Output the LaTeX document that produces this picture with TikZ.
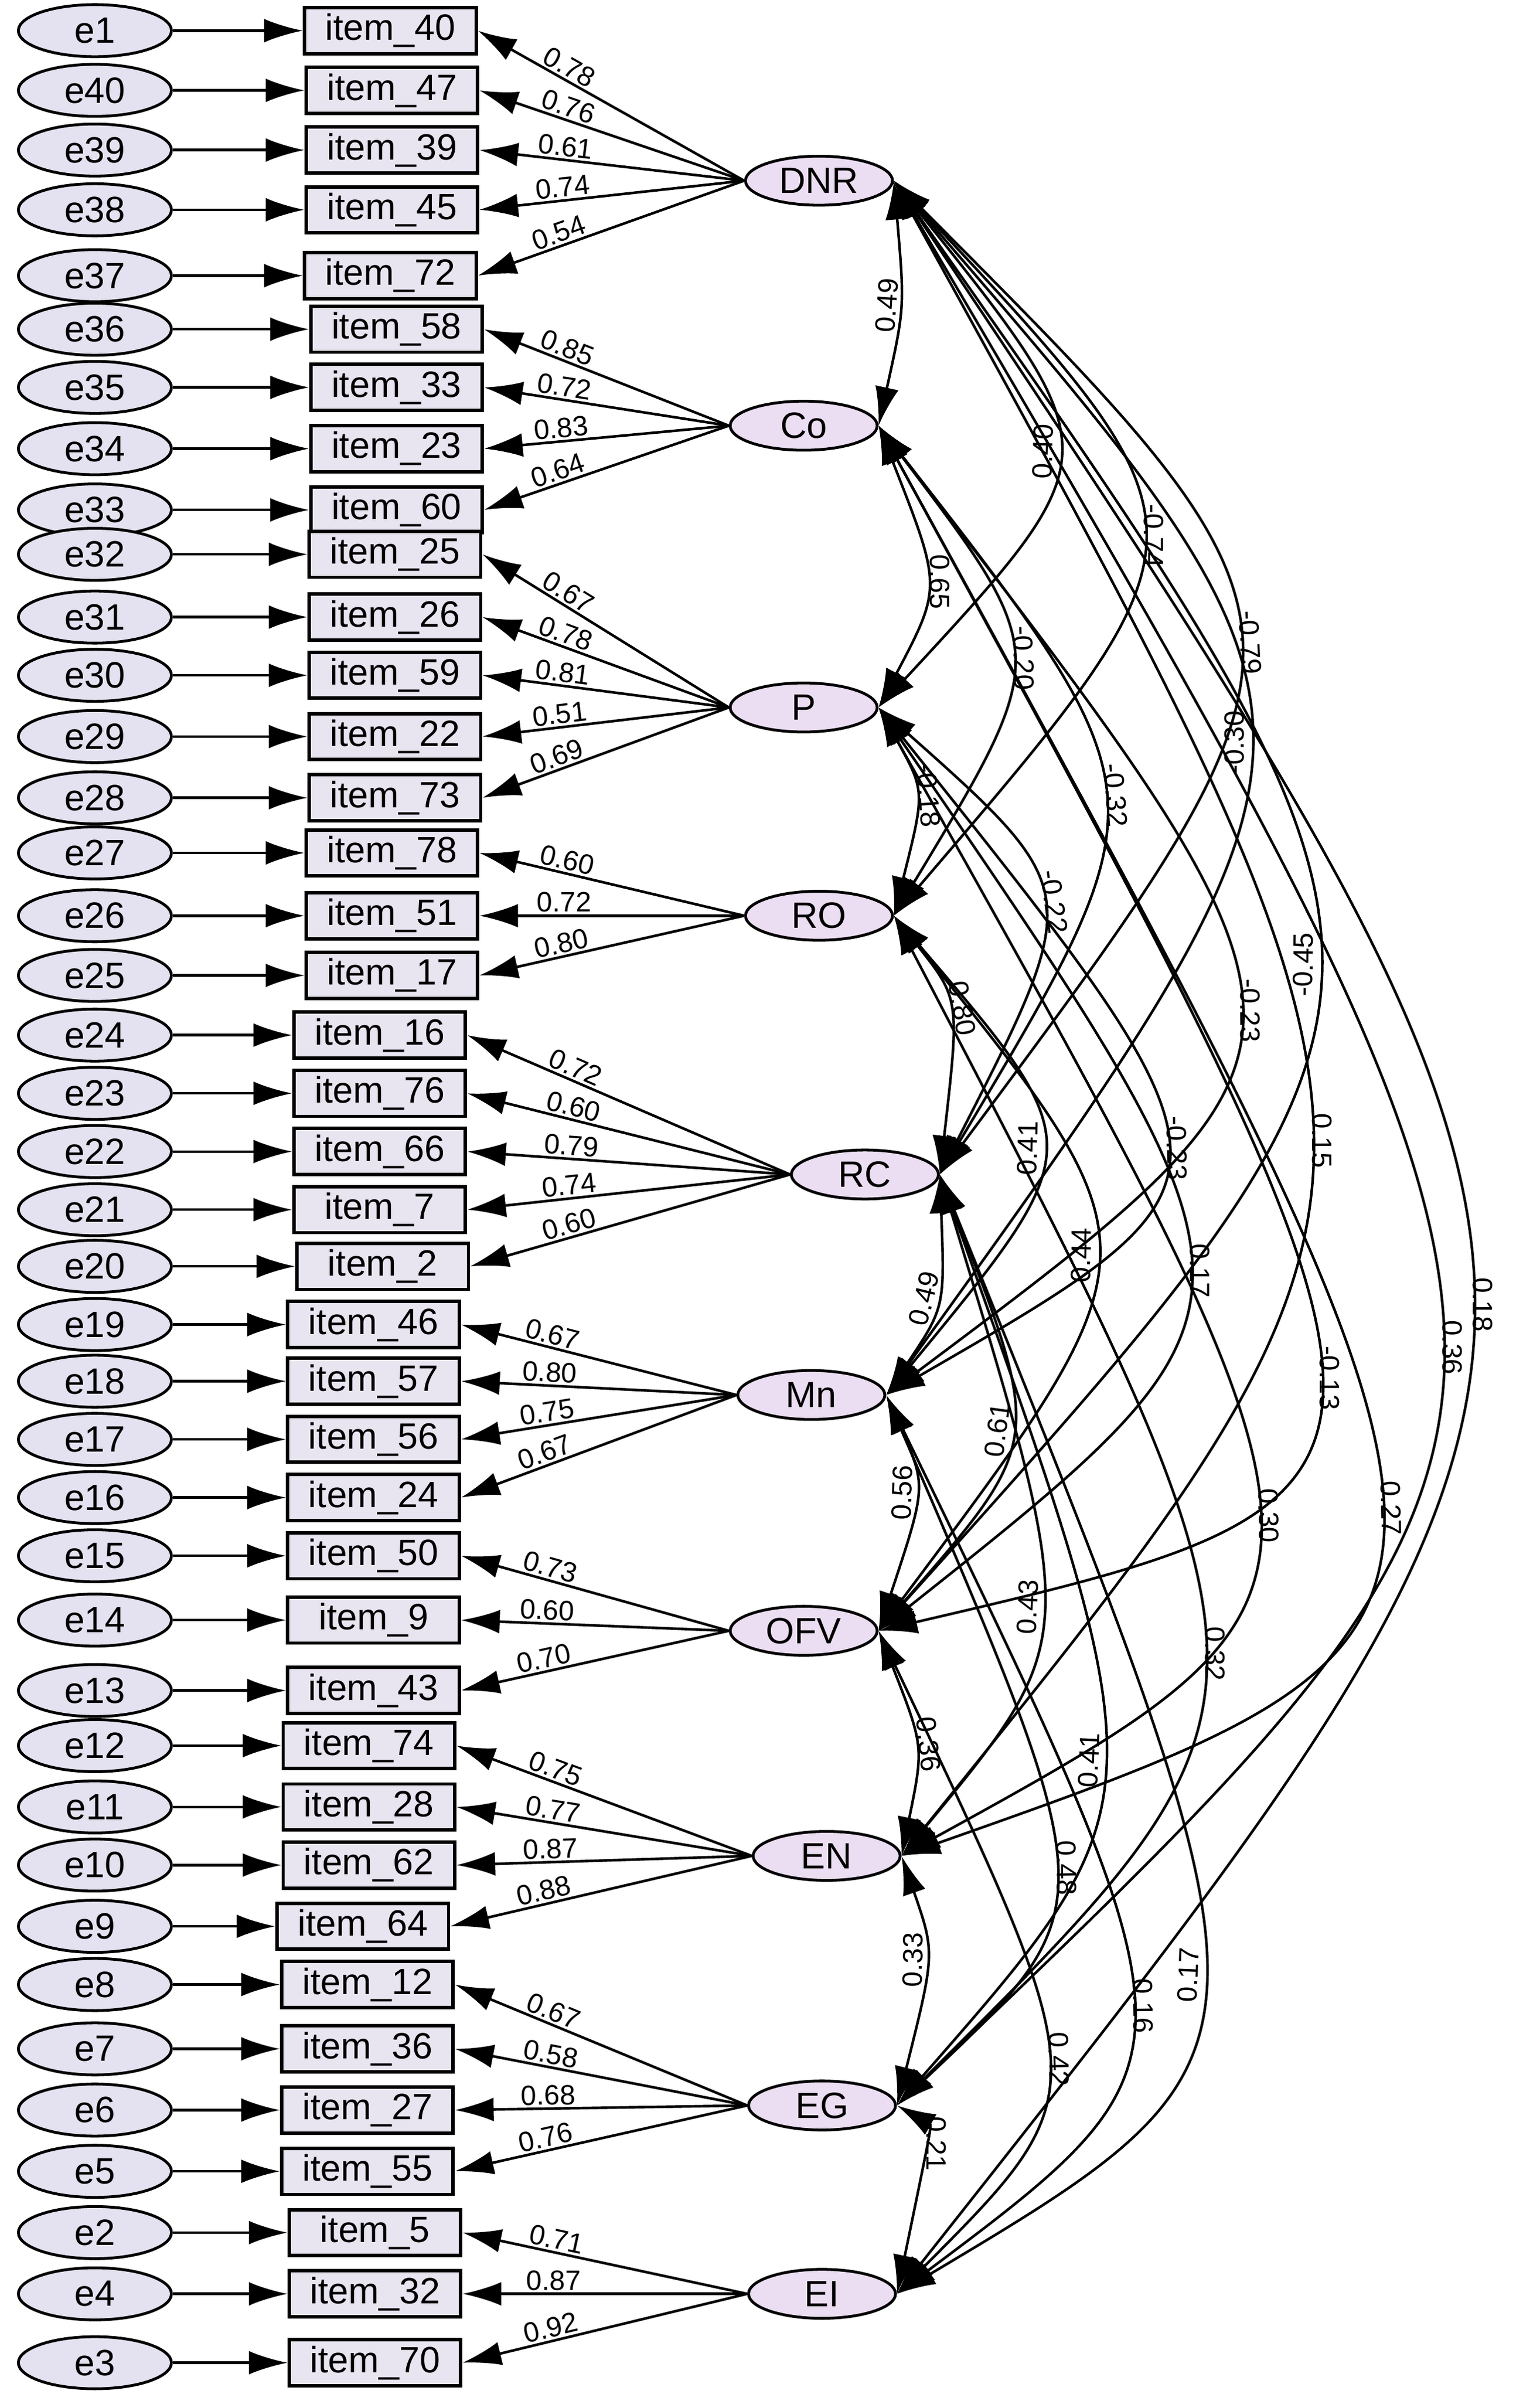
\documentclass[tikz,border=0pt]{standalone}
\usepackage{fontspec}
\setmainfont{Liberation Sans}
\usetikzlibrary{arrows.meta,shapes.geometric,calc}
\begin{document}
\begin{tikzpicture}[x=0.025cm,y=-0.025cm,
 err/.style={ellipse,draw,line width=1.3pt,fill={rgb,255:red,228;green,226;blue,240},minimum width=2.5cm,minimum height=0.85cm,inner sep=0pt,font=\fontsize{17}{19}\selectfont},
 item/.style={rectangle,draw,line width=1.6pt,fill={rgb,255:red,232;green,228;blue,240},minimum width=2.8cm,minimum height=0.75cm,inner sep=0pt,font=\fontsize{17}{19}\selectfont},
 fac/.style={ellipse,draw,line width=1.3pt,fill={rgb,255:red,236;green,222;blue,242},minimum width=2.4cm,minimum height=0.8cm,inner sep=0pt,font=\fontsize{17}{19}\selectfont},
 arr/.style={line width=1.2pt,-{Latex[length=18pt,width=11pt]}},
 darr/.style={line width=1.2pt,{Latex[length=18pt,width=11pt]}-{Latex[length=18pt,width=11pt]}},
 lab/.style={font=\fontsize{13}{15}\selectfont,inner sep=1pt}]
\useasboundingbox (0,0) rectangle (1006,1568);
\foreach \i/\y/\e/\it/\x in {1/20/e1/40/255,2/59/e40/47/256,3/98/e39/39/256,4/137/e38/45/256,5/180/e37/72/255,
6/215/e36/58/259,7/253/e35/33/259,8/293/e34/23/259,9/333/e33/60/259,10/362/e32/25/258,11/403/e31/26/258,
12/441/e30/59/258,13/481/e29/22/258,14/521/e28/73/258,15/557/e27/78/256,16/598/e26/51/256,17/637/e25/17/256,
18/676/e24/16/248,19/714/e23/76/248,20/752/e22/66/248,21/790/e21/7/248,22/827/e20/2/250,23/865/e19/46/244,
24/902/e18/57/244,25/940/e17/56/244,26/978/e16/24/244,27/1016/e15/50/244,28/1058/e14/9/244,29/1104/e13/43/244,
30/1140/e12/74/241,31/1180/e11/28/241,32/1218/e10/62/241,33/1258/e9/64/237,34/1296/e8/12/240,35/1338/e7/36/240,
36/1378/e6/27/240,37/1418/e5/55/240,38/1458/e2/5/245,39/1498/e4/32/245,40/1543/e3/70/245}{
 \node[err] (e\i) at (62,\y) {\e};
 \node[item] (i\i) at (\x,\y) {item\_\it};
 \draw[arr] (e\i) -- (i\i);
}
\node[fac] (DNR) at (535,118) {DNR};
\node[fac] (Co) at (525,278) {Co};
\node[fac] (P) at (525,462) {P};
\node[fac] (RO) at (535,598) {RO};
\node[fac] (RC) at (565,767) {RC};
\node[fac] (Mn) at (530,911) {Mn};
\node[fac] (OFV) at (525,1065) {OFV};
\node[fac] (EN) at (540,1212) {EN};
\node[fac] (EG) at (537,1375) {EG};
\node[fac] (EI) at (537,1498) {EI};
\foreach \f/\i/\v in {DNR/1/0.78,DNR/2/0.76,DNR/3/0.61,DNR/4/0.74,DNR/5/0.54,
Co/6/0.85,Co/7/0.72,Co/8/0.83,Co/9/0.64,
P/10/0.67,P/11/0.78,P/12/0.81,P/13/0.51,P/14/0.69,
RO/15/0.60,RO/16/0.72,RO/17/0.80,
RC/18/0.72,RC/19/0.60,RC/20/0.79,RC/21/0.74,RC/22/0.60,
Mn/23/0.67,Mn/24/0.80,Mn/25/0.75,Mn/26/0.67,
OFV/27/0.73,OFV/28/0.60,OFV/29/0.70,
EN/30/0.75,EN/31/0.77,EN/32/0.87,EN/33/0.88,
EG/34/0.67,EG/35/0.58,EG/36/0.68,EG/37/0.76,
EI/38/0.71,EI/39/0.87,EI/40/0.92}{
 \draw[arr] (\f.west) -- node[pos=0.68,sloped,above,lab]{\v} (i\i.east);
}
\newcommand\cv[5]{\draw[darr] (#1.east) .. controls ($1.33333*(#3,#4)-0.166667*(#1.east)-0.166667*(#2.east)$) .. (#2.east) node[pos=0.5,sloped,above,lab]{#5};}
\cv{DNR}{Co}{588}{200}{0.49}
\cv{DNR}{P}{690}{295}{0.40}
\cv{DNR}{RO}{745}{350}{-0.74}
\cv{DNR}{RC}{808}{420}{-0.79}
\cv{DNR}{Mn}{815}{485}{-0.30}
\cv{DNR}{OFV}{860}{630}{-0.45}
\cv{DNR}{EN}{855}{745}{0.15}
\cv{DNR}{EG}{940}{880}{0.36}
\cv{DNR}{EI}{960}{852}{0.18}
\cv{Co}{P}{605}{380}{0.65}
\cv{Co}{RO}{660}{430}{-0.20}
\cv{Co}{RC}{720}{520}{-0.32}
\cv{Co}{Mn}{808}{660}{-0.23}
\cv{Co}{OFV}{860}{900}{-0.13}
\cv{Co}{EN}{900}{985}{0.27}
\cv{P}{RO}{598}{520}{-0.18}
\cv{P}{RC}{680}{590}{-0.22}
\cv{P}{Mn}{760}{750}{-0.23}
\cv{P}{OFV}{775}{830}{0.17}
\cv{P}{EN}{820}{990}{0.30}
\cv{RO}{RC}{620}{660}{0.80}
\cv{RO}{Mn}{680}{750}{0.41}
\cv{RO}{OFV}{715}{820}{0.44}
\cv{RO}{EG}{785}{1080}{0.32}
\cv{RC}{Mn}{612}{850}{0.49}
\cv{RC}{OFV}{660}{935}{0.61}
\cv{RC}{EN}{680}{1050}{0.43}
\cv{RC}{EG}{720}{1150}{0.41}
\cv{RC}{EI}{785}{1290}{0.17}
\cv{Mn}{OFV}{598}{975}{0.56}
\cv{Mn}{EG}{688}{1220}{0.48}
\cv{Mn}{EI}{738}{1310}{0.16}
\cv{OFV}{EN}{598}{1140}{0.36}
\cv{OFV}{EI}{683}{1345}{0.42}
\cv{EN}{EG}{605}{1280}{0.33}
\cv{EG}{EI}{603}{1400}{0.21}
\end{tikzpicture}
\end{document}
